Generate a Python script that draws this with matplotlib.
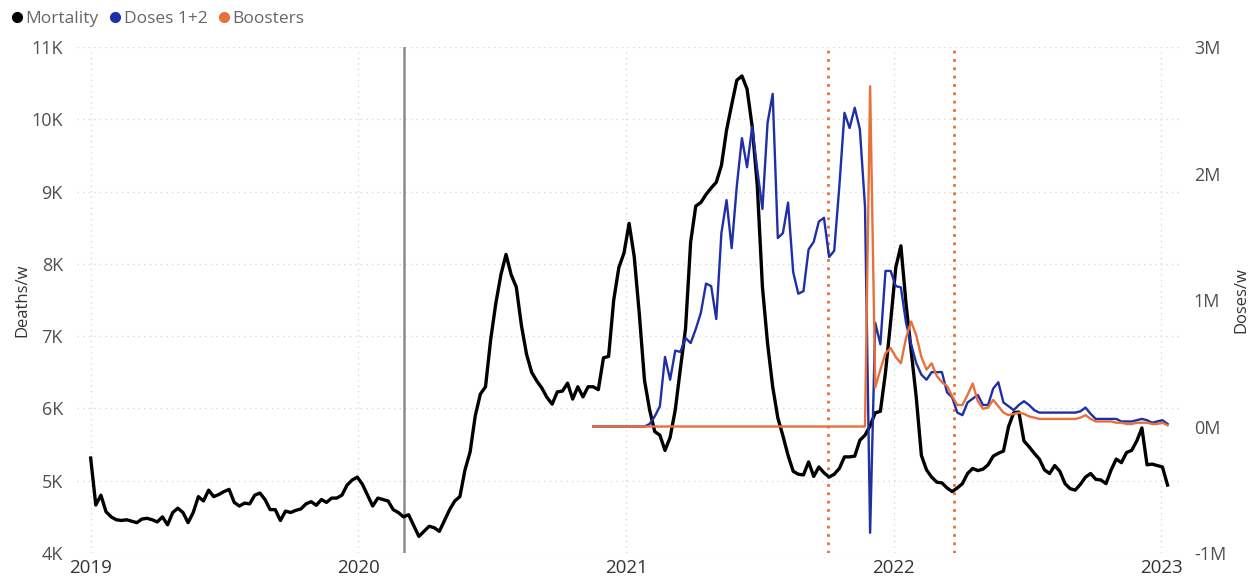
import matplotlib.pyplot as plt
from matplotlib.lines import Line2D
import pandas as pd

# weekly deaths, from the first week of 2019
mortality = [
    5314, 4664, 4800, 4570, 4500, 4460, 4450, 4460, 4440, 4420,
    4470, 4480, 4460, 4430, 4500, 4390, 4560, 4620, 4560, 4420,
    4560, 4780, 4720, 4870, 4780, 4810, 4850, 4880, 4700, 4650,
    4690, 4680, 4800, 4830, 4740, 4600, 4600, 4450, 4580, 4560,
    4590, 4610, 4680, 4710, 4660, 4740, 4700, 4760, 4760, 4800,
    4940, 5010, 5050, 4950, 4800, 4650, 4760, 4740, 4720, 4600,
    4560, 4500, 4530, 4380, 4230, 4300, 4370, 4350, 4300, 4450,
    4600, 4720, 4780, 5150, 5400, 5900, 6200, 6300, 6950, 7450,
    7850, 8130, 7850, 7680, 7150, 6750, 6500, 6380, 6280, 6150,
    6060, 6230, 6240, 6350, 6130, 6300, 6160, 6300, 6300, 6260,
    6700, 6720, 7500, 7950, 8150, 8560, 8100, 7300, 6390, 5980,
    5680, 5630, 5420, 5600, 5980, 6550, 7100, 8300, 8800, 8850,
    8960, 9050, 9130, 9360, 9850, 10200, 10540, 10600, 10420, 9900,
    9080, 7680, 6900, 6300, 5870, 5620, 5350, 5130, 5090, 5080,
    5260, 5060, 5190, 5110, 5050, 5090, 5170, 5330, 5330, 5340,
    5560, 5630, 5760, 5940, 5960, 6500, 7200, 7950, 8250, 7450,
    6800, 6150, 5350, 5150, 5050, 4980, 4970, 4900, 4850, 4900,
    4960, 5100, 5170, 5140, 5160, 5220, 5340, 5380, 5410, 5750,
    5940, 5950, 5550, 5470, 5380, 5300, 5150, 5100, 5210, 5130,
    4960, 4890, 4870, 4950, 5050, 5100, 5020, 5010, 4960, 5150,
    5300, 5250, 5390, 5420, 5550, 5730, 5220, 5230, 5210, 5190,
    4940,
]

# weekly vaccine doses in millions, from mid November 2020
doses = [
    0, 0, 0, 0, 0, 0, 0, 0, 0, 0,
    0, 0.02, 0.08, 0.16, 0.55, 0.37, 0.60, 0.59, 0.70, 0.66,
    0.77, 0.90, 1.13, 1.11, 0.85, 1.53, 1.79, 1.41, 1.90, 2.28,
    2.05, 2.37, 2.03, 1.72, 2.40, 2.63, 1.49, 1.53, 1.77, 1.22,
    1.05, 1.07, 1.40, 1.46, 1.62, 1.65, 1.34, 1.39, 1.90, 2.48,
    2.36, 2.52, 2.35, 1.74, -0.84, 0.82, 0.65, 1.23, 1.23, 1.11,
    1.10, 0.82, 0.65, 0.50, 0.41, 0.37, 0.43, 0.43, 0.43, 0.27,
    0.23, 0.11, 0.09, 0.19, 0.22, 0.25, 0.17, 0.17, 0.30, 0.35,
    0.19, 0.16, 0.13, 0.17, 0.20, 0.17, 0.13, 0.11, 0.11, 0.11,
    0.11, 0.11, 0.11, 0.11, 0.11, 0.12, 0.15, 0.10, 0.06, 0.06,
    0.06, 0.06, 0.06, 0.04, 0.04, 0.04, 0.05, 0.06, 0.05, 0.03,
    0.04, 0.05, 0.02,
]
boosters = [
    0, 0, 0, 0, 0, 0, 0, 0, 0, 0,
    0, 0, 0, 0, 0, 0, 0, 0, 0, 0,
    0, 0, 0, 0, 0, 0, 0, 0, 0, 0,
    0, 0, 0, 0, 0, 0, 0, 0, 0, 0,
    0, 0, 0, 0, 0, 0, 0, 0, 0, 0,
    0, 0, 0, 0, 2.69, 0.31, 0.45, 0.58, 0.62, 0.55,
    0.50, 0.70, 0.83, 0.72, 0.55, 0.45, 0.50, 0.40, 0.35, 0.32,
    0.24, 0.17, 0.17, 0.25, 0.34, 0.20, 0.14, 0.15, 0.21, 0.16,
    0.11, 0.09, 0.10, 0.11, 0.10, 0.08, 0.07, 0.06, 0.06, 0.06,
    0.06, 0.06, 0.06, 0.06, 0.06, 0.07, 0.09, 0.06, 0.04, 0.04,
    0.04, 0.04, 0.03, 0.03, 0.02, 0.02, 0.03, 0.03, 0.03, 0.02,
    0.02, 0.03, 0.01,
]

lockdown = "2020-03-04"
booster_marks = ["2021-10-03", "2022-03-25"]
years = ["2019", "2020", "2021", "2022", "2023"]

dates = pd.date_range("2019-01-01", periods=len(mortality), freq="7D")
vax_dates = pd.date_range("2020-11-17", periods=len(doses), freq="7D")

plt.rcParams["font.family"] = ["Open Sans", "DejaVu Sans"]
text_grey = "#505050"
black = "#000000"
blue = "#1f2fa6"
orange = "#e8703a"

figure = plt.figure(figsize=(12.58, 5.88), dpi=100)
axes = figure.add_axes([0.061, 0.0595, 0.877, 0.8605])
axes2 = axes.twinx()

axes.plot(dates, mortality, color=black, linewidth=2.4, zorder=3)
axes2.plot(vax_dates, [d * 1e6 for d in doses], color=blue, linewidth=1.7, zorder=3)
axes2.plot(vax_dates, [b * 1e6 for b in boosters], color=orange, linewidth=1.7, zorder=4)

axes.axvline(pd.Timestamp(lockdown), color="#8c8c8c", linewidth=1.8, zorder=2)
for d in booster_marks:
    axes.axvline(pd.Timestamp(d), color=orange, linewidth=2, linestyle=(0, (1, 2)), zorder=2)

axes.set_xlim(pd.Timestamp("2018-12-13"), pd.Timestamp("2023-01-27"))
axes.set_ylim(4000, 11000)
axes2.set_ylim(-1e6, 3e6)

axes.set_xticks([pd.Timestamp(y + "-01-01") for y in years])
axes.set_xticklabels(years)
axes.set_yticks(range(4000, 11001, 1000))
axes.set_yticklabels([f"{v // 1000}K" for v in range(4000, 11001, 1000)])
axes2.set_yticks([-1e6, 0, 1e6, 2e6, 3e6])
axes2.set_yticklabels(["-1M", "0M", "1M", "2M", "3M"])

axes.grid(True, color="#d9d9d9", linestyle=(0, (1, 3)), linewidth=1)
for a in (axes, axes2):
    for s in a.spines.values():
        s.set_visible(False)
    a.tick_params(length=0, colors=text_grey, labelsize=13)
axes.tick_params(axis="x", pad=4, labelsize=13.5, colors="#333333")
axes.tick_params(axis="y", pad=10)
axes2.tick_params(axis="y", pad=10)

axes.set_ylabel("Deaths/w", fontsize=12, color="#333333")
axes2.set_ylabel("Doses/w", fontsize=12, color="#333333")
axes.yaxis.set_label_coords(-0.042, 0.5)
axes2.yaxis.set_label_coords(1.048, 0.5)

handles = [
    Line2D([], [], marker="o", linestyle="", color=black, markersize=7),
    Line2D([], [], marker="o", linestyle="", color=blue, markersize=7),
    Line2D([], [], marker="o", linestyle="", color=orange, markersize=7),
]
figure.legend(handles, ["Mortality", "Doses 1+2", "Boosters"], loc="upper left",
              bbox_to_anchor=(-0.004, 1.008), ncol=3, frameon=False, fontsize=12.5,
              handlelength=0.7, handletextpad=0.15, columnspacing=0.6,
              labelcolor="#666666")

figure.savefig("out.png", dpi=100)
